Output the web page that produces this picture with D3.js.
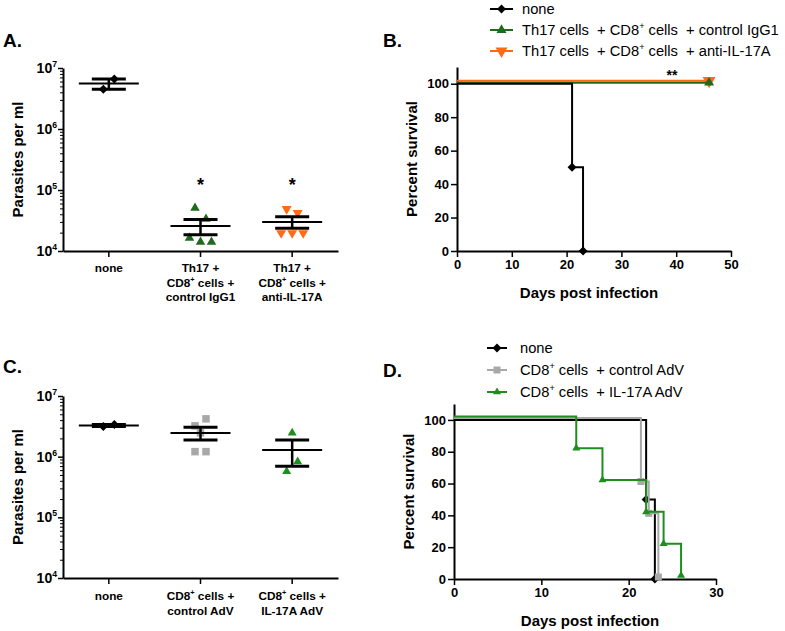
<!DOCTYPE html>
<html><head><meta charset="utf-8">
<script src="https://cdn.jsdelivr.net/npm/d3@7"></script>
<style>
body{margin:0;background:#fff;}
svg{font-family:"Liberation Sans", Arial, sans-serif;}
</style></head><body>
<svg id="chart" width="785" height="631"></svg>
<script>
// ---------- DATA ----------
// Panel A (parasites per ml, log scale)
const aCategories = [["none"], ["Th17 +", "CD8^+ cells +", "control IgG1"], ["Th17 +", "CD8^+ cells +", "anti-IL-17A"]];
const aNone = [4.5e6, 6.6e6];
const aIgG1 = [50700, 33500, 16300, 14000, 14000];
const aAnti = [48900, 42000, 19700, 19700, 19700];
const aStars = ["", "*", "*"];
// Panel C
const cCategories = [["none"], ["CD8^+ cells +", "control AdV"], ["CD8^+ cells +", "IL-17A AdV"]];
const cNone = [3.15e6, 3.4e6];
const cCtrl = [3.22e6, 4.2e6, 2.47e6, 1.21e6, 1.21e6];
const cIL17 = [2.47e6, 5.7e5, 8.3e5];
const cStars = ["", "", ""];
const logTicks = [1e4, 1e5, 1e6, 1e7];
const logTickLabels = ["10^4", "10^5", "10^6", "10^7"];
// Panel B (survival)
const bNoneDays = [0, 21, 23], bNoneSurv = [100, 50, 0];
const bIgG1Days = [0, 46], bIgG1Surv = [100, 100];
const bAntiDays = [0, 46], bAntiSurv = [100, 100];
const bLegend = ["none", "Th17 cells  + CD8^+ cells  + control IgG1", "Th17 cells  + CD8^+ cells  + anti-IL-17A"];
const bXTicks = [0, 10, 20, 30, 40, 50];
const bSignif = "**";
// Panel D
const dNoneDays = [0, 22, 23], dNoneSurv = [100, 50, 0];
const dCtrlDays = [0, 21.4, 22.3, 23.4], dCtrlSurv = [100, 60, 40, 0];
const dIL17Days = [0, 14, 17, 22, 24, 26], dIL17Surv = [100, 80, 60, 40, 20, 0];
const dLegend = ["none", "CD8^+ cells  + control AdV", "CD8^+ cells  + IL-17A AdV"];
const dXTicks = [0, 10, 20, 30];
const survTicks = [0, 20, 40, 60, 80, 100];

// ---------- STYLE ----------
const GREEN_DARK = "#1f6a1f", GREEN = "#1e8e1e", ORANGE = "#ff6a14", GRAY = "#a8a8a8", BLACK = "#000";
const LEG_FS = 14.7;

const svg = d3.select("#chart");

function rich(t, s, fs) {
  const parts = s.split(/\^(\S)/);
  let shifted = false;
  parts.forEach((p, i) => {
    if (i % 2 === 1) {
      t.append("tspan").attr("dy", -fs * 0.42).attr("font-size", fs * 0.62).text(p);
      shifted = true;
    } else if (p.length) {
      const ts = t.append("tspan").text(p);
      if (shifted) ts.attr("dy", fs * 0.42);
      shifted = false;
    }
  });
}

function marker(g, type, x, y, size, color) {
  let sym, rot = 0;
  if (type === "diamond") { sym = d3.symbolSquare; rot = 45; }
  else if (type === "up") sym = d3.symbolTriangle;
  else if (type === "down") { sym = d3.symbolTriangle; rot = 180; }
  else sym = d3.symbolSquare;
  let area;
  if (type === "diamond") area = (size * size) / 2;
  else if (type === "square") area = size * size;
  else area = size * size * Math.sqrt(3) / 4;
  g.append("path").attr("d", d3.symbol(sym, area)())
    .attr("transform", `translate(${x},${y}) rotate(${rot})`)
    .attr("fill", color);
}

function jitterOffsets(values, y, step, thr) {
  const order = values.map((v, i) => i).sort((a, b) => y(values[a]) - y(values[b]) || a - b);
  const offs = new Array(values.length).fill(0);
  let cluster = [], start = null;
  const flush = () => {
    const m = cluster.slice().sort((a, b) => a - b), n = m.length;
    m.forEach((idx, k) => offs[idx] = (k - (n - 1) / 2) * step);
  };
  order.forEach(i => {
    if (start === null || y(values[i]) - start >= thr) { if (cluster.length) flush(); cluster = [i]; start = y(values[i]); }
    else cluster.push(i);
  });
  if (cluster.length) flush();
  return offs;
}

function styleAxis(sel, w) {
  sel.select(".domain").attr("stroke", BLACK).attr("stroke-width", w);
  sel.selectAll(".tick line").attr("stroke", BLACK).attr("stroke-width", 1.5);
}

function scatterPanel(cfg) {
  const g = svg.append("g");
  const y = d3.scaleLog().domain([1e4, 1e7]).range([cfg.y0, cfg.y1]);
  const x = d3.scaleBand().domain(d3.range(cfg.cats.length)).range([63, 338]);
  const cx = i => x(i) + x.bandwidth() / 2;
  const minor = [];
  for (let e = 4; e < 7; e++) for (let m = 2; m <= 9; m++) minor.push(m * 10 ** e);
  const mi = g.append("g").attr("transform", "translate(63,0)")
    .call(d3.axisLeft(y).tickValues(minor).tickSize(3).tickFormat(""));
  mi.select(".domain").remove();
  mi.selectAll(".tick line").attr("stroke", BLACK).attr("stroke-width", 1);
  const ya = g.append("g").attr("transform", "translate(63,0)")
    .call(d3.axisLeft(y).tickValues(logTicks).tickSize(5).tickSizeOuter(0).tickFormat(""));
  styleAxis(ya, 2);
  logTicks.forEach((v, i) => {
    const t = g.append("text").attr("x", 57).attr("y", y(v) + 5)
      .attr("text-anchor", "end").attr("font-weight", "bold").attr("font-size", 14);
    rich(t, logTickLabels[i], 14);
  });
  const xa = g.append("g").attr("transform", `translate(0,${cfg.y0})`)
    .call(d3.axisBottom(x).tickSize(6).tickSizeOuter(0).tickFormat(""));
  styleAxis(xa, 2);
  cfg.cats.forEach((lines, i) => {
    lines.forEach((ln, j) => {
      const t = g.append("text").attr("x", cx(i)).attr("y", cfg.labelY + j * 14.5)
        .attr("text-anchor", "middle").attr("font-weight", "bold").attr("font-size", 11.8);
      rich(t, ln, 11.8);
    });
  });
  g.append("text").attr("transform", `translate(23,${(cfg.y0 + cfg.y1) / 2}) rotate(-90)`)
    .attr("text-anchor", "middle").attr("font-weight", "bold").attr("font-size", 15)
    .text("Parasites per ml");
  g.append("text").attr("x", 3).attr("y", cfg.letterY).attr("font-weight", "bold")
    .attr("font-size", 19).text(cfg.letter);
  cfg.groups.forEach((vals, i) => {
    const offs = jitterOffsets(vals, y, 11, 12);
    vals.forEach((v, k) => marker(g, cfg.markers[i].type, cx(i) + offs[k], y(v), cfg.markers[i].size, cfg.markers[i].color));
    const mean = d3.mean(vals);
    const sem = d3.deviation(vals) / Math.sqrt(vals.length);
    const c = cx(i);
    g.append("line").attr("x1", c - 30).attr("x2", c + 30).attr("y1", y(mean)).attr("y2", y(mean))
      .attr("stroke", BLACK).attr("stroke-width", 2);
    g.append("line").attr("x1", c).attr("x2", c).attr("y1", y(mean + sem)).attr("y2", y(mean - sem))
      .attr("stroke", BLACK).attr("stroke-width", 2.5);
    [mean + sem, mean - sem].forEach(v => g.append("line").attr("x1", c - 17).attr("x2", c + 17)
      .attr("y1", y(v)).attr("y2", y(v)).attr("stroke", BLACK).attr("stroke-width", 3));
    if (cfg.stars[i]) g.append("text").attr("x", c).attr("y", cfg.starY).attr("text-anchor", "middle")
      .attr("font-weight", "bold").attr("font-size", 18).text(cfg.stars[i]);
  });
}

function survPanel(cfg) {
  const g = svg.append("g");
  const x = d3.scaleLinear().domain([0, cfg.xMax]).range([cfg.x0, cfg.x1]);
  const y = d3.scaleLinear().domain([0, 110]).range([cfg.y0, cfg.yTop]);
  const ya = g.append("g").attr("transform", `translate(${cfg.x0},0)`)
    .call(d3.axisLeft(y).tickValues(survTicks).tickSize(6).tickSizeOuter(0).tickPadding(2));
  styleAxis(ya, 2);
  const xa = g.append("g").attr("transform", `translate(0,${cfg.y0})`)
    .call(d3.axisBottom(x).tickValues(cfg.xTicks).tickSize(6).tickSizeOuter(0).tickPadding(3));
  styleAxis(xa, 2);
  g.selectAll(".tick text").attr("font-family", '"Liberation Sans", Arial, sans-serif')
    .attr("font-weight", "bold").attr("font-size", 13).attr("fill", BLACK);
  g.append("text").attr("transform", `translate(${cfg.x0 - 40},${(cfg.y0 + cfg.yTop) / 2}) rotate(-90)`)
    .attr("text-anchor", "middle").attr("font-weight", "bold").attr("font-size", 15).text("Percent survival");
  g.append("text").attr("x", cfg.xTitleX).attr("y", cfg.xTitleY).attr("text-anchor", "middle")
    .attr("font-weight", "bold").attr("font-size", 15).text("Days post infection");
  g.append("text").attr("x", 383).attr("y", cfg.letterY).attr("font-weight", "bold")
    .attr("font-size", 19).text(cfg.letter);
  const line = d3.line().curve(d3.curveStepAfter);
  cfg.series.forEach(s => {
    const pts = s.days.map((d, i) => [x(d), y(s.surv[i]) + s.dy]);
    g.append("path").attr("d", line(pts)).attr("fill", "none").attr("stroke", s.color).attr("stroke-width", 2);
    pts.slice(1).forEach(p => marker(g, s.type, p[0], p[1], s.size, s.color));
  });
  cfg.legend.forEach((txt, i) => {
    const s = cfg.series[cfg.legendOrder[i]];
    const ly = cfg.legY + i * cfg.legStep;
    g.append("line").attr("x1", cfg.legX0).attr("x2", cfg.legX1).attr("y1", ly).attr("y2", ly)
      .attr("stroke", s.color).attr("stroke-width", 2);
    marker(g, s.type, (cfg.legX0 + cfg.legX1) / 2, ly, s.legSize || s.size, s.color);
    const t = g.append("text").attr("x", cfg.legTx).attr("y", ly + 5).attr("font-size", LEG_FS)
      .style("white-space", "pre");
    rich(t, txt, LEG_FS);
  });
  if (cfg.signif) g.append("text").attr("x", cfg.signif.x).attr("y", cfg.signif.y).attr("text-anchor", "middle")
    .attr("font-size", 14).attr("font-weight", "bold").text(cfg.signif.text);
  return { x, y };
}

// ---------- DRAW ----------
scatterPanel({
  y0: 251, y1: 68, cats: aCategories, groups: [aNone, aIgG1, aAnti], stars: aStars,
  markers: [{ type: "diamond", size: 9, color: BLACK }, { type: "up", size: 9.5, color: GREEN_DARK }, { type: "down", size: 10, color: ORANGE }],
  labelY: 272, letter: "A.", letterY: 47, starY: 191
});
scatterPanel({
  y0: 578, y1: 396, cats: cCategories, groups: [cNone, cCtrl, cIL17], stars: cStars,
  markers: [{ type: "diamond", size: 9, color: BLACK }, { type: "square", size: 7.5, color: GRAY }, { type: "up", size: 9, color: GREEN }],
  labelY: 600, letter: "C.", letterY: 373, starY: 0
});
survPanel({
  x0: 457, x1: 731, xMax: 50, y0: 251, yTop: 67, xTicks: bXTicks,
  xTitleX: 589, xTitleY: 298, letter: "B.", letterY: 47,
  series: [
    { days: bAntiDays, surv: bAntiSurv, color: ORANGE, type: "down", size: 13, legSize: 12, dy: -3 },
    { days: bIgG1Days, surv: bIgG1Surv, color: GREEN_DARK, type: "up", size: 10, dy: -1 },
    { days: bNoneDays, surv: bNoneSurv, color: BLACK, type: "diamond", size: 9, dy: 0 }
  ],
  legend: bLegend, legendOrder: [2, 1, 0], legX0: 490, legX1: 513, legTx: 522, legY: 9, legStep: 21,
  signif: { x: 672, y: 80, text: bSignif }
});
survPanel({
  x0: 454, x1: 716, xMax: 30, y0: 579, yTop: 404, xTicks: dXTicks,
  xTitleX: 590, xTitleY: 626, letter: "D.", letterY: 377,
  series: [
    { days: dNoneDays, surv: dNoneSurv, color: BLACK, type: "diamond", size: 9, dy: 0 },
    { days: dCtrlDays, surv: dCtrlSurv, color: GRAY, type: "square", size: 7, dy: -2 },
    { days: dIL17Days, surv: dIL17Surv, color: GREEN, type: "up", size: 8, dy: -3.5 }
  ],
  legend: dLegend, legendOrder: [0, 1, 2], legX0: 487, legX1: 507, legTx: 520, legY: 348, legStep: 22
});
</script>
</body></html>
